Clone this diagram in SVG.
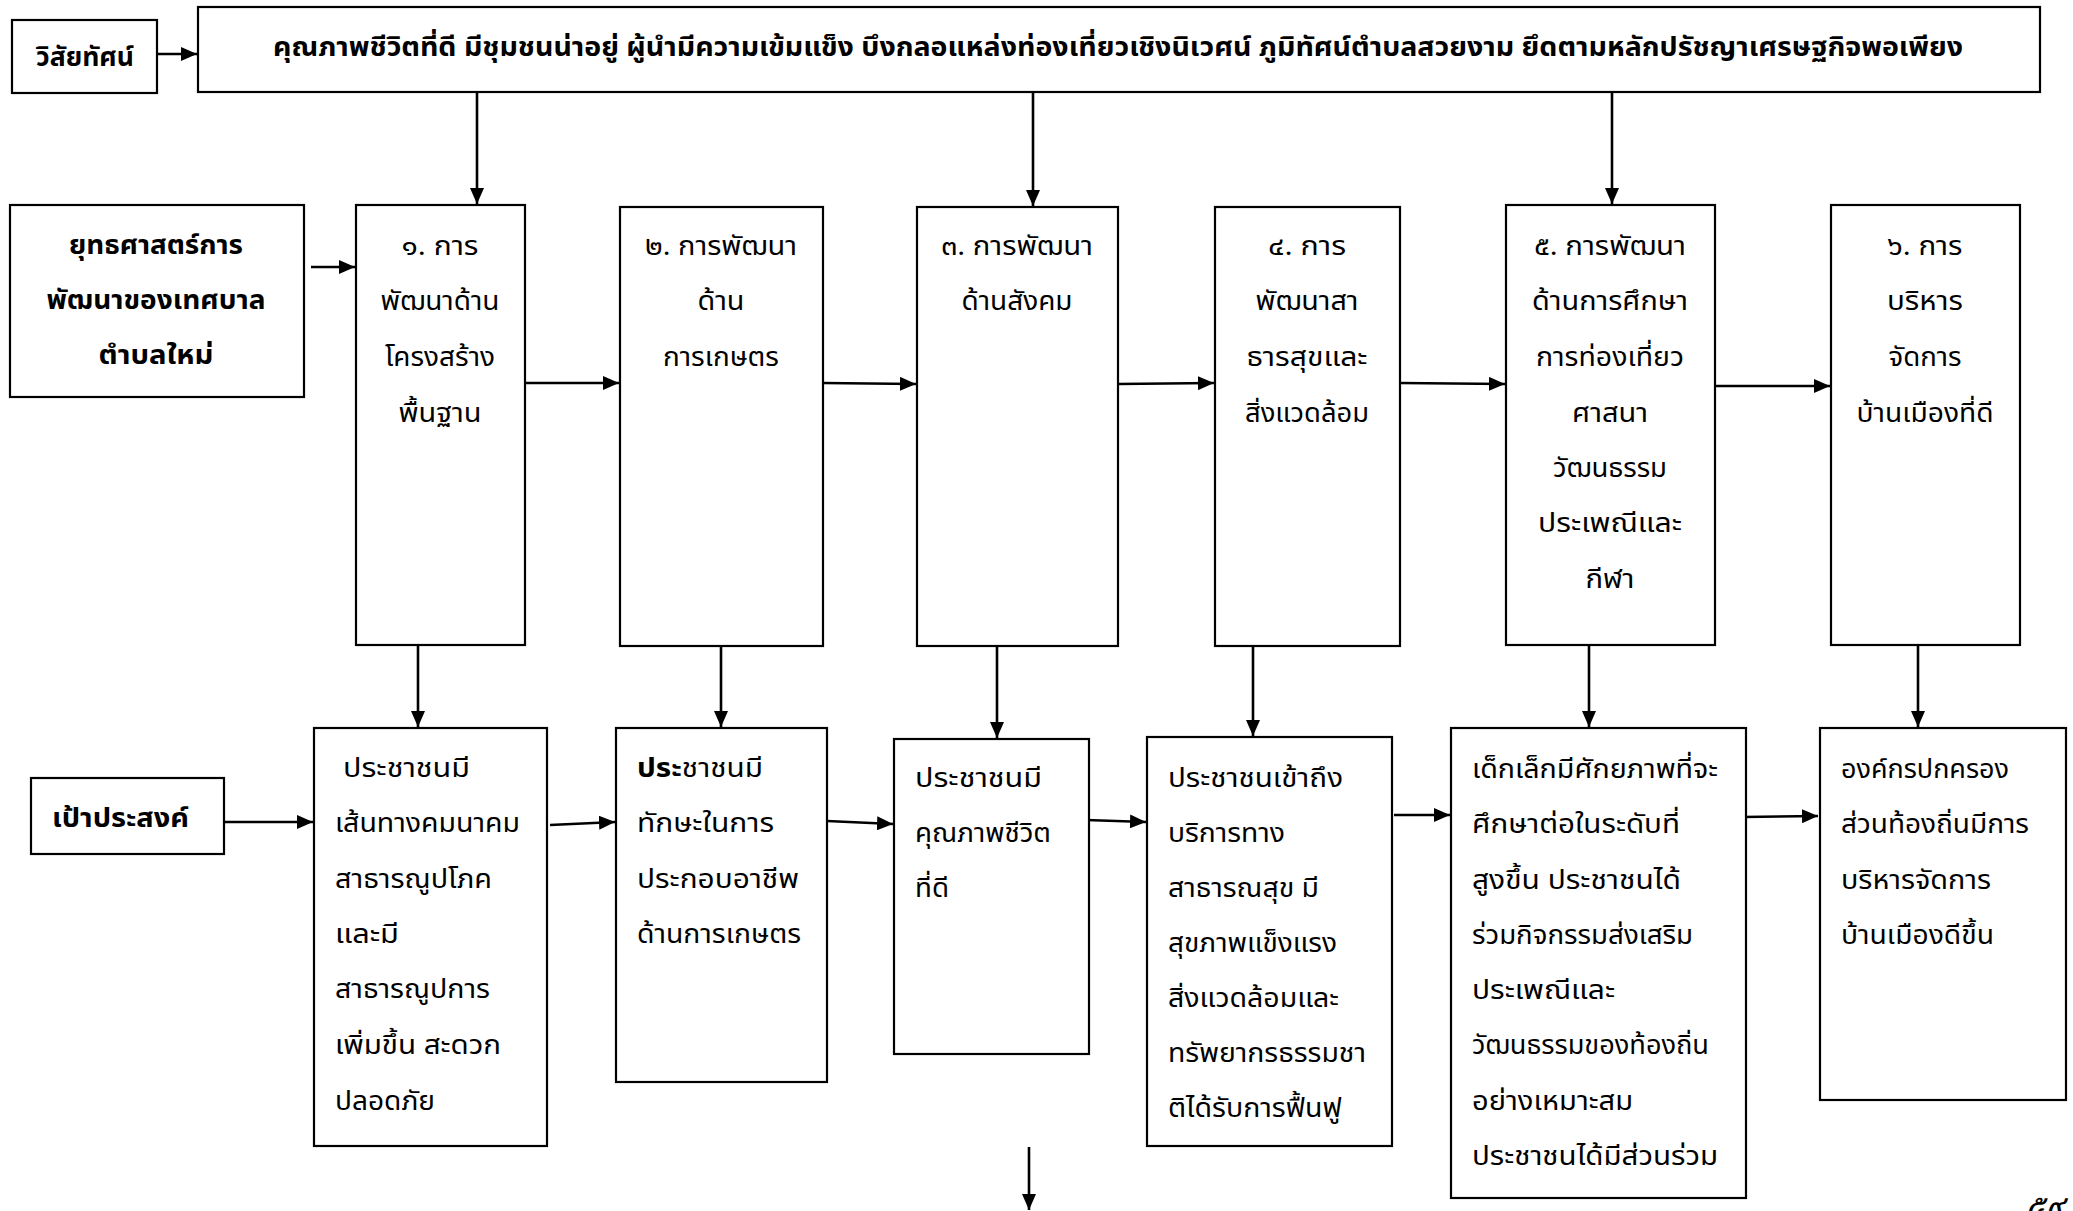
<svg xmlns="http://www.w3.org/2000/svg" width="2073" height="1211" viewBox="0 0 2073 1211">
<style>
.box{fill:#fff;stroke:#000;stroke-width:2.2}
.ln{fill:none;stroke:#000;stroke-width:2.6}
text{font-family:"Noto Sans Thai","Noto Sans","DejaVu Sans",sans-serif;font-size:26px;fill:#000}
.b{font-weight:bold}
.c{text-anchor:middle}
</style>
<defs>
<marker id="ah" markerUnits="userSpaceOnUse" markerWidth="17" markerHeight="14" refX="16" refY="7" orient="auto">
<path d="M0,0 L16,7 L0,14 z" fill="#000"/>
</marker>
</defs>
<rect width="2073" height="1211" fill="#fff"/>

<g id="connectors">
<line class="ln" x1="157" y1="54" x2="197" y2="54" marker-end="url(#ah)"/>
<line class="ln" x1="477" y1="92" x2="477" y2="204" marker-end="url(#ah)"/>
<line class="ln" x1="1033" y1="92" x2="1033" y2="206" marker-end="url(#ah)"/>
<line class="ln" x1="1612" y1="92" x2="1612" y2="204" marker-end="url(#ah)"/>
<line class="ln" x1="311" y1="267" x2="355" y2="267" marker-end="url(#ah)"/>
<line class="ln" x1="525" y1="383" x2="619" y2="383" marker-end="url(#ah)"/>
<line class="ln" x1="823" y1="383" x2="916" y2="384" marker-end="url(#ah)"/>
<line class="ln" x1="1118" y1="384" x2="1214" y2="383" marker-end="url(#ah)"/>
<line class="ln" x1="1400" y1="383" x2="1505" y2="384" marker-end="url(#ah)"/>
<line class="ln" x1="1715" y1="386" x2="1830" y2="386" marker-end="url(#ah)"/>
<line class="ln" x1="418" y1="646" x2="418" y2="727" marker-end="url(#ah)"/>
<line class="ln" x1="721" y1="646" x2="721" y2="727" marker-end="url(#ah)"/>
<line class="ln" x1="997" y1="646" x2="997" y2="738" marker-end="url(#ah)"/>
<line class="ln" x1="1253" y1="646" x2="1253" y2="736" marker-end="url(#ah)"/>
<line class="ln" x1="1589" y1="646" x2="1589" y2="727" marker-end="url(#ah)"/>
<line class="ln" x1="1918" y1="646" x2="1918" y2="727" marker-end="url(#ah)"/>
<line class="ln" x1="224" y1="822" x2="313" y2="822" marker-end="url(#ah)"/>
<line class="ln" x1="550" y1="825" x2="615" y2="822" marker-end="url(#ah)"/>
<line class="ln" x1="827" y1="821" x2="893" y2="824" marker-end="url(#ah)"/>
<line class="ln" x1="1086" y1="820" x2="1146" y2="822" marker-end="url(#ah)"/>
<line class="ln" x1="1394" y1="815" x2="1450" y2="815" marker-end="url(#ah)"/>
<line class="ln" x1="1743" y1="817" x2="1818" y2="816" marker-end="url(#ah)"/>
<line class="ln" x1="1029" y1="1147" x2="1029" y2="1210" marker-end="url(#ah)"/>
</g>

<g id="vision-label">
<rect class="box" x="12" y="20" width="145" height="73"/>
<text class="b c" x="85" y="66" textLength="98" lengthAdjust="spacingAndGlyphs">วิสัยทัศน์</text>
</g>
<g id="vision">
<rect class="box" x="198" y="7" width="1842" height="85"/>
<text class="b" x="273" y="56" textLength="1690" lengthAdjust="spacingAndGlyphs">คุณภาพชีวิตที่ดี มีชุมชนน่าอยู่ ผู้นำมีความเข้มแข็ง   บึงกลอแหล่งท่องเที่ยวเชิงนิเวศน์ ภูมิทัศน์ตำบลสวยงาม ยึดตามหลักปรัชญาเศรษฐกิจพอเพียง</text>
</g>

<g id="strategy-label">
<rect class="box" x="10" y="205" width="294" height="192"/>
<text class="b c" x="156" y="254" textLength="174" lengthAdjust="spacingAndGlyphs">ยุทธศาสตร์การ</text>
<text class="b c" x="156" y="309" textLength="219" lengthAdjust="spacingAndGlyphs">พัฒนาของเทศบาล</text>
<text class="b c" x="156" y="364" textLength="115" lengthAdjust="spacingAndGlyphs">ตำบลใหม่</text>
</g>

<g id="s1">
<rect class="box" x="356" y="205" width="169" height="440"/>
<text class="c" x="440" y="255" textLength="77" lengthAdjust="spacingAndGlyphs">๑. การ</text>
<text class="c" x="440" y="310" textLength="119" lengthAdjust="spacingAndGlyphs">พัฒนาด้าน</text>
<text class="c" x="440" y="366" textLength="110" lengthAdjust="spacingAndGlyphs">โครงสร้าง</text>
<text class="c" x="440" y="422" textLength="83" lengthAdjust="spacingAndGlyphs">พื้นฐาน</text>
</g>
<g id="s2">
<rect class="box" x="620" y="207" width="203" height="439"/>
<text class="c" x="721" y="255" textLength="152" lengthAdjust="spacingAndGlyphs">๒. การพัฒนา</text>
<text class="c" x="721" y="310" textLength="47" lengthAdjust="spacingAndGlyphs">ด้าน</text>
<text class="c" x="721" y="366" textLength="116" lengthAdjust="spacingAndGlyphs">การเกษตร</text>
</g>
<g id="s3">
<rect class="box" x="917" y="207" width="201" height="439"/>
<text class="c" x="1017" y="255" textLength="152" lengthAdjust="spacingAndGlyphs">๓. การพัฒนา</text>
<text class="c" x="1017" y="310" textLength="111" lengthAdjust="spacingAndGlyphs">ด้านสังคม</text>
</g>
<g id="s4">
<rect class="box" x="1215" y="207" width="185" height="439"/>
<text class="c" x="1307" y="255" textLength="78" lengthAdjust="spacingAndGlyphs">๔. การ</text>
<text class="c" x="1307" y="310" textLength="103" lengthAdjust="spacingAndGlyphs">พัฒนาสา</text>
<text class="c" x="1307" y="366" textLength="121" lengthAdjust="spacingAndGlyphs">ธารสุขและ</text>
<text class="c" x="1307" y="422" textLength="124" lengthAdjust="spacingAndGlyphs">สิ่งแวดล้อม</text>
</g>
<g id="s5">
<rect class="box" x="1506" y="205" width="209" height="440"/>
<text class="c" x="1610" y="255" textLength="152" lengthAdjust="spacingAndGlyphs">๕. การพัฒนา</text>
<text class="c" x="1610" y="310" textLength="156" lengthAdjust="spacingAndGlyphs">ด้านการศึกษา</text>
<text class="c" x="1610" y="366" textLength="148" lengthAdjust="spacingAndGlyphs">การท่องเที่ยว</text>
<text class="c" x="1610" y="422" textLength="76" lengthAdjust="spacingAndGlyphs">ศาสนา</text>
<text class="c" x="1610" y="477" textLength="114" lengthAdjust="spacingAndGlyphs">วัฒนธรรม</text>
<text class="c" x="1610" y="532" textLength="144" lengthAdjust="spacingAndGlyphs">ประเพณีและ</text>
<text class="c" x="1610" y="588" textLength="49" lengthAdjust="spacingAndGlyphs">กีฬา</text>
</g>
<g id="s6">
<rect class="box" x="1831" y="205" width="189" height="440"/>
<text class="c" x="1925" y="255" textLength="75" lengthAdjust="spacingAndGlyphs">๖. การ</text>
<text class="c" x="1925" y="310" textLength="76" lengthAdjust="spacingAndGlyphs">บริหาร</text>
<text class="c" x="1925" y="366" textLength="73" lengthAdjust="spacingAndGlyphs">จัดการ</text>
<text class="c" x="1925" y="422" textLength="137" lengthAdjust="spacingAndGlyphs">บ้านเมืองที่ดี</text>
</g>

<g id="goal-label">
<rect class="box" x="31" y="778" width="193" height="76"/>
<text class="b" x="52" y="827" textLength="137" lengthAdjust="spacingAndGlyphs">เป้าประสงค์</text>
</g>

<g id="g1">
<rect class="box" x="314" y="728" width="233" height="418"/>
<text x="343" y="777" textLength="127" lengthAdjust="spacingAndGlyphs">ประชาชนมี</text>
<text x="335" y="832" textLength="185" lengthAdjust="spacingAndGlyphs">เส้นทางคมนาคม</text>
<text x="335" y="888" textLength="157" lengthAdjust="spacingAndGlyphs">สาธารณูปโภค</text>
<text x="335" y="943" textLength="64" lengthAdjust="spacingAndGlyphs">และมี</text>
<text x="335" y="998" textLength="155" lengthAdjust="spacingAndGlyphs">สาธารณูปการ</text>
<text x="335" y="1054" textLength="166" lengthAdjust="spacingAndGlyphs">เพิ่มขึ้น สะดวก</text>
<text x="335" y="1110" textLength="100" lengthAdjust="spacingAndGlyphs">ปลอดภัย</text>
</g>
<g id="g2">
<rect class="box" x="616" y="728" width="211" height="354"/>
<text x="637" y="777" textLength="126" lengthAdjust="spacingAndGlyphs"><tspan class="b">ประ</tspan>ชาชนมี</text>
<text x="637" y="832" textLength="137" lengthAdjust="spacingAndGlyphs">ทักษะในการ</text>
<text x="637" y="888" textLength="162" lengthAdjust="spacingAndGlyphs">ประกอบอาชีพ</text>
<text x="637" y="943" textLength="164" lengthAdjust="spacingAndGlyphs">ด้านการเกษตร</text>
</g>
<g id="g3">
<rect class="box" x="894" y="739" width="195" height="315"/>
<text x="915" y="787" textLength="127" lengthAdjust="spacingAndGlyphs">ประชาชนมี</text>
<text x="915" y="842" textLength="136" lengthAdjust="spacingAndGlyphs">คุณภาพชีวิต</text>
<text x="915" y="897" textLength="34" lengthAdjust="spacingAndGlyphs">ที่ดี</text>
</g>
<g id="g4">
<rect class="box" x="1147" y="737" width="245" height="409"/>
<text x="1168" y="787" textLength="175" lengthAdjust="spacingAndGlyphs">ประชาชนเข้าถึง</text>
<text x="1168" y="842" textLength="117" lengthAdjust="spacingAndGlyphs">บริการทาง</text>
<text x="1168" y="897" textLength="151" lengthAdjust="spacingAndGlyphs">สาธารณสุข มี</text>
<text x="1168" y="952" textLength="169" lengthAdjust="spacingAndGlyphs">สุขภาพแข็งแรง</text>
<text x="1168" y="1007" textLength="171" lengthAdjust="spacingAndGlyphs">สิ่งแวดล้อมและ</text>
<text x="1168" y="1062" textLength="198" lengthAdjust="spacingAndGlyphs">ทรัพยากรธรรมชา</text>
<text x="1168" y="1117" textLength="174" lengthAdjust="spacingAndGlyphs">ติได้รับการฟื้นฟู</text>
</g>
<g id="g5">
<rect class="box" x="1451" y="728" width="295" height="470"/>
<text x="1472" y="778" textLength="246" lengthAdjust="spacingAndGlyphs">เด็กเล็กมีศักยภาพที่จะ</text>
<text x="1472" y="833" textLength="208" lengthAdjust="spacingAndGlyphs">ศึกษาต่อในระดับที่</text>
<text x="1472" y="889" textLength="209" lengthAdjust="spacingAndGlyphs">สูงขึ้น ประชาชนได้</text>
<text x="1472" y="944" textLength="221" lengthAdjust="spacingAndGlyphs">ร่วมกิจกรรมส่งเสริม</text>
<text x="1472" y="999" textLength="143" lengthAdjust="spacingAndGlyphs">ประเพณีและ</text>
<text x="1472" y="1054" textLength="237" lengthAdjust="spacingAndGlyphs">วัฒนธรรมของท้องถิ่น</text>
<text x="1472" y="1110" textLength="161" lengthAdjust="spacingAndGlyphs">อย่างเหมาะสม</text>
<text x="1472" y="1165" textLength="246" lengthAdjust="spacingAndGlyphs">ประชาชนได้มีส่วนร่วม</text>
</g>
<g id="g6">
<rect class="box" x="1820" y="728" width="246" height="372"/>
<text x="1841" y="778" textLength="168" lengthAdjust="spacingAndGlyphs">องค์กรปกครอง</text>
<text x="1841" y="833" textLength="188" lengthAdjust="spacingAndGlyphs">ส่วนท้องถิ่นมีการ</text>
<text x="1841" y="889" textLength="150" lengthAdjust="spacingAndGlyphs">บริหารจัดการ</text>
<text x="1841" y="944" textLength="153" lengthAdjust="spacingAndGlyphs">บ้านเมืองดีขึ้น</text>
</g>

<text x="2025" y="1218" font-style="italic" style="font-size:34px" textLength="38" lengthAdjust="spacingAndGlyphs">๕๙</text>
</svg>
